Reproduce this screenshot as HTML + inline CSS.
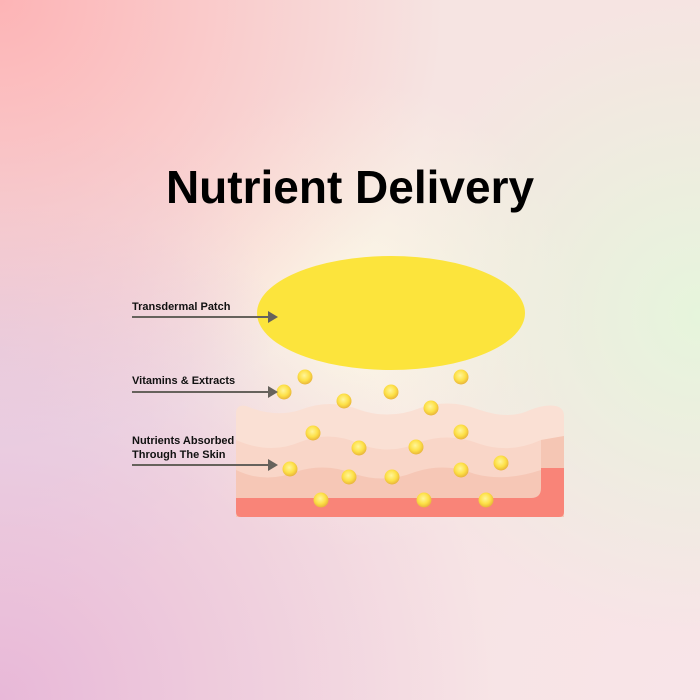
<!DOCTYPE html>
<html><head><style>
html,body{margin:0;padding:0}
body{width:700px;height:700px;overflow:hidden;position:relative;font-family:"Liberation Sans",sans-serif;
background:
radial-gradient(circle at 0% 0%, #fdb4b6 0%, rgba(253,180,182,0) 45%),
radial-gradient(circle at 0% 100%, #e8b8d8 0%, rgba(232,184,216,0) 50%),
radial-gradient(circle at 100% 45%, #e6f5dc 0%, rgba(230,245,220,0) 40%),
radial-gradient(circle at 100% 100%, #f8e4e8 0%, rgba(248,228,232,0) 50%),
radial-gradient(circle at 0% 50%, #e4dcec 0%, rgba(228,220,236,0) 35%),
radial-gradient(circle at 50% 45%, #fbf8e6 0%, rgba(251,248,230,0) 45%),
#f6e4e2}
</style></head><body>
<svg width="700" height="700" style="position:absolute;left:0;top:0">
<defs>
<radialGradient id="dot" cx="45%" cy="40%" r="60%">
<stop offset="0" stop-color="#fff59a"/><stop offset="0.6" stop-color="#fde046"/><stop offset="1" stop-color="#e8b43a"/>
</radialGradient>
</defs>
<text x="350" y="203" text-anchor="middle" font-family="Liberation Sans" font-weight="bold" font-size="46" fill="#000">Nutrient Delivery</text>
<ellipse cx="391" cy="313" rx="134" ry="57" fill="#fce43c"/>
<path d="M236,414 Q236,404 246,406 Q275,418 300,410 Q330,398 360,410 Q390,420 420,408 Q450,398 480,410 Q510,420 530,410 Q545,404 556,406 Q564,408 564,416 L564,512 Q564,517 559,517 L241,517 Q236,517 236,512 Z" fill="#fae0d4"/>
<path d="M236,440 Q270,455 300,442 Q330,430 360,444 Q390,456 420,442 Q450,432 480,444 Q510,454 541,440 L564,436 L564,517 L236,517 Z" fill="#f9d6c8"/>
<path d="M236,470 Q265,484 295,472 Q325,462 355,474 Q385,484 415,472 Q445,462 475,474 Q505,482 541,470 L564,468 L564,517 L236,517 Z" fill="#f6c7b6"/>
<path d="M541,440 L564,436 L564,468 L541,468 Z" fill="#f5c6b4"/>
<path d="M236,498 L531,498 Q541,498 541,488 L541,468 L564,468 L564,512 Q564,517 559,517 L241,517 Q236,517 236,512 Z" fill="#f98478"/>
<g fill="url(#dot)">
<circle cx="305" cy="377" r="7.5"/><circle cx="461" cy="377" r="7.5"/><circle cx="284" cy="392" r="7.5"/>
<circle cx="391" cy="392" r="7.5"/><circle cx="344" cy="401" r="7.5"/><circle cx="431" cy="408" r="7.5"/>
<circle cx="313" cy="433" r="7.5"/><circle cx="461" cy="432" r="7.5"/><circle cx="359" cy="448" r="7.5"/>
<circle cx="416" cy="447" r="7.5"/><circle cx="290" cy="469" r="7.5"/><circle cx="501" cy="463" r="7.5"/>
<circle cx="349" cy="477" r="7.5"/><circle cx="392" cy="477" r="7.5"/><circle cx="461" cy="470" r="7.5"/>
<circle cx="321" cy="500" r="7.5"/><circle cx="424" cy="500" r="7.5"/><circle cx="486" cy="500" r="7.5"/>
</g>
<g font-family="Liberation Sans" font-weight="bold" font-size="11" fill="#111">
<text x="132" y="310">Transdermal Patch</text>
<text x="132" y="384">Vitamins &amp; Extracts</text>
<text x="132" y="444">Nutrients Absorbed</text>
<text x="132" y="458">Through The Skin</text>
</g>
<g stroke="#66625c" stroke-width="2" fill="#66625c">
<line x1="132" y1="317" x2="270" y2="317"/><polygon points="268,311 278,317 268,323" stroke="none"/>
<line x1="132" y1="392" x2="270" y2="392"/><polygon points="268,386 278,392 268,398" stroke="none"/>
<line x1="132" y1="465" x2="270" y2="465"/><polygon points="268,459 278,465 268,471" stroke="none"/>
</g>
</svg>
</body></html>
